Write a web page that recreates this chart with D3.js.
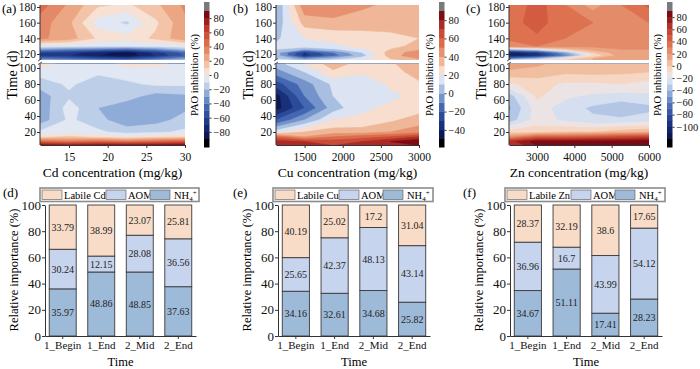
<!DOCTYPE html>
<html>
<head>
<meta charset="utf-8">
<script src="https://cdn.jsdelivr.net/npm/d3@7"></script>
<style>
body { margin: 0; background: #fff; }
svg { display: block; font-family: "Liberation Serif", "Times New Roman", serif; }
</style>
</head>
<body>
<svg id="fig" width="700" height="369"></svg>
<script>
// ---- contour data (rows = time, cols = concentration) ----
var timeLow  = [3, 8, 14, 20, 35, 50, 65, 80, 95, 105];
var timeHigh = [110, 114, 118, 122, 126, 130, 140, 160, 183];

var cdConc = [11.25, 15, 18.75, 22.5, 26.25, 30];
var cuConc = [1125, 1500, 1875, 2250, 2625, 3000];
var znConc = [2250, 3000, 3750, 4500, 5250, 6000];

var cdLow = [
  [85, 80, 85, 85, 85, 88],
  [45, 40, 45, 40, 45, 50],
  [5, 12, 5, 0, 5, 8],
  [-8, -5, -8, -14, -12, -8],
  [-26, -8, -16, -28, -24, -16],
  [-28, -5, -20, -26, -22, -22],
  [-25, -12, -20, -16, -24, -22],
  [-16, -8, -16, -12, -8, -8],
  [-5, -5, -8, -5, -5, -5],
  [3, -3, -5, 3, 2, -3]
];
var cdHigh = [
  [-8, -10, -10, -12, -10, -5],
  [-40, -45, -55, -60, -45, -30],
  [-65, -70, -80, -88, -70, -50],
  [-60, -65, -75, -85, -65, -45],
  [-30, -35, -40, -45, -35, -20],
  [-5, -8, -10, -10, -8, -5],
  [32, 25, 8, 4, 12, 28],
  [35, 22, -5, -12, 8, 28],
  [45, 28, 12, 8, 18, 32]
];

var cuLow = [
  [70, 75, 70, 70, 75, 80],
  [75, 70, 65, 70, 80, 88],
  [55, 40, 50, 55, 60, 70],
  [15, 30, 35, 35, 40, 45],
  [-20, 0, 20, 22, 28, 35],
  [-45, -20, 5, 18, 22, 25],
  [-45, -10, 10, 15, 18, 22],
  [-25, -5, 12, 12, 22, 28],
  [-5, 10, 28, 22, 25, 35],
  [5, 20, 35, 25, 28, 38]
];
var cuHigh = [
  [15, 15, 20, 22, 28, 30],
  [10, -5, 5, 15, 30, 40],
  [5, -35, -15, 5, 35, 48],
  [5, -30, -10, 10, 35, 45],
  [10, 0, 8, 18, 30, 38],
  [12, 15, 18, 22, 28, 32],
  [8, 20, 22, 25, 28, 30],
  [2, 34, 37, 35, 33, 37],
  [-2, 48, 48, 42, 38, 40]
];

var znLow = [
  [55, 80, 85, 85, 85, 88],
  [65, 85, 85, 85, 85, 88],
  [20, 40, 40, 45, 50, 55],
  [-5, -5, 0, 0, 5, 8],
  [-36, -15, -22, -28, -28, -25],
  [-42, -15, -25, -32, -38, -33],
  [-35, -8, -18, -22, -24, -22],
  [-12, -5, -12, -12, -10, -14],
  [8, 5, 2, 3, 2, 0],
  [15, 12, 5, 5, 5, 5]
];
var znHigh = [
  [10, 5, 5, 10, 15, 15],
  [-60, -40, -10, 10, 15, 15],
  [-110, -100, -60, -10, 15, 15],
  [-105, -90, -45, 0, 18, 18],
  [-40, -25, 0, 15, 20, 20],
  [25, 30, 25, 22, 22, 20],
  [32, 38, 30, 25, 22, 22],
  [35, 45, 32, 30, 28, 30],
  [30, 45, 30, 15, 30, 42]
];

var cdLevels = [-90, -80, -70, -60, -50, -40, -30, -20, -10, 0, 10, 20, 30, 40, 50, 60, 70, 80, 90];
var cuLevels = [-50, -40, -30, -20, -10, 0, 10, 20, 30, 40, 50, 60, 70, 80, 90];
var znLevels = [-120, -110, -100, -90, -80, -70, -60, -50, -40, -30, -20, -10, 0, 10, 20, 30, 40, 50, 60, 70, 80, 90];
var cdBarTicks = [-80, -60, -40, -20, 0, 20, 40, 60, 80];
var cuBarTicks = [-40, -20, 0, 20, 40, 60, 80];
var znBarTicks = [-100, -80, -60, -40, -20, 0, 20, 40, 60, 80];
var highTicks = [120, 140, 160, 180];
var lowTicks = [20, 40, 60, 80, 100];
var cdTicks = [15, 20, 25, 30];
var cuTicks = [1500, 2000, 2500, 3000];
var znTicks = [3000, 4000, 5000, 6000];

// ---- bar data ----
var timeCats = ["1_Begin", "1_End", "2_Mid", "2_End"];
var cdNH4 = [35.97, 48.86, 48.85, 37.63];
var cdAOM = [30.24, 12.15, 28.08, 36.56];
var cdLabile = [33.79, 38.99, 23.07, 25.81];
var cuNH4 = [34.16, 32.61, 34.68, 25.82];
var cuAOM = [25.65, 42.37, 48.13, 43.14];
var cuLabile = [40.19, 25.02, 17.2, 31.04];
var znNH4 = [34.67, 51.11, 17.41, 28.23];
var znAOM = [36.96, 16.7, 43.99, 54.12];
var znLabile = [28.37, 32.19, 38.6, 17.65];

var svg = d3.select("#fig");
var serif = "Liberation Serif, Times New Roman, serif";

// diverging palette picked off the colour bars
var cmap = d3.scaleLinear()
  .domain([0.03, 0.14, 0.25, 0.36, 0.42, 0.47, 0.53, 0.58, 0.64, 0.75, 0.86, 0.97])
  .range(["#0c1650", "#1e3a8a", "#4467b2", "#8eaad8", "#c0d0ea", "#e0e7f4",
          "#f7e1d3", "#f3c6a9", "#eba583", "#dc6c4a", "#c03a2c", "#7a0a14"])
  .clamp(true);

function styleAxis(g, size) {
  g.attr("font-family", serif);
  g.selectAll("text").attr("font-size", size).attr("fill", "#111");
  g.selectAll("line").attr("stroke", "#333");
  g.select(".domain").attr("stroke", "#333");
}

function contourPanel(p) {
  var g = svg.append("g");
  var x = d3.scaleLinear().domain([p.conc[0], p.conc[p.conc.length - 1]]).range([p.x0, p.x1]);
  var yHigh = d3.scaleLinear().domain([120, 180]).range([54, 7]);
  var yLow = d3.scaleLinear().domain([20, 100]).range([132, 68]);
  var vmin = p.levels[0], vmax = p.levels[p.levels.length - 1];
  var bandColor = function(i) {
    if (i >= p.levels.length - 1) return "#7a7a7a";
    var mid = (p.levels[i] + p.levels[i + 1]) / 2;
    return cmap((mid - vmin) / (vmax - vmin));
  };

  function half(times, grid, y, top, bottom, id) {
    svg.append("clipPath").attr("id", id).append("rect")
      .attr("x", p.x0).attr("y", top).attr("width", p.x1 - p.x0).attr("height", bottom - top);
    var nx = p.conc.length, ny = times.length;
    var xi = d3.scaleLinear().domain(d3.range(nx)).range(p.conc).clamp(true);
    var ti = d3.scaleLinear().domain(d3.range(ny)).range(times).clamp(true);
    var proj = d3.geoTransform({ point: function(px, py) {
      this.stream.point(x(xi(px - 0.5)), y(ti(py - 0.5)));
    }});
    var path = d3.geoPath(proj);
    var cs = d3.contours().size([nx, ny]).thresholds(p.levels)(grid.flat());
    var hg = g.append("g").attr("clip-path", "url(#" + id + ")");
    hg.append("rect").attr("x", p.x0).attr("y", top).attr("width", p.x1 - p.x0)
      .attr("height", bottom - top).attr("fill", "#000");
    hg.selectAll("path").data(cs).join("path")
      .attr("d", path)
      .attr("fill", function(d, i) { return bandColor(i); })
      .attr("stroke", function(d, i) { return bandColor(i); })
      .attr("stroke-width", 0.6);
  }
  half(timeHigh, p.high, yHigh, 5, 60, p.id + "h");
  half(timeLow, p.low, yLow, 63.5, 145, p.id + "l");

  // axes
  var ah = g.append("g").attr("transform", "translate(" + p.x0 + ",0)")
    .call(d3.axisLeft(yHigh).tickValues(highTicks).tickSize(3).tickPadding(1).tickSizeOuter(0));
  ah.select(".domain").attr("d", "M0,5V60");
  styleAxis(ah, 11.5);
  var al = g.append("g").attr("transform", "translate(" + p.x0 + ",0)")
    .call(d3.axisLeft(yLow).tickValues(lowTicks).tickSize(3).tickPadding(1).tickSizeOuter(0));
  al.select(".domain").attr("d", "M0,63.5V145");
  styleAxis(al, 11.5);
  var ax = g.append("g").attr("transform", "translate(0,145)")
    .call(d3.axisBottom(x).tickValues(p.ticks).tickSize(3).tickPadding(5).tickSizeOuter(0)
      .tickFormat(d3.format("d")));
  styleAxis(ax, 11.5);

  // break marks
  g.append("path").attr("d", "M" + (p.x0 - 2) + ",61l4,-2.5M" + (p.x0 - 2) + ",64.5l4,-2.5")
    .attr("stroke", "#333").attr("stroke-width", 0.8).attr("fill", "none");

  g.append("text").attr("x", p.x0 - 28).attr("y", 75).attr("font-size", 14)
    .attr("text-anchor", "middle").attr("transform", "rotate(-90," + (p.x0 - 28) + ",75)")
    .attr("dy", "0.35em").text("Time (d)");
  g.append("text").attr("x", (p.x0 + p.x1) / 2).attr("y", 177).attr("font-size", 13.5)
    .attr("text-anchor", "middle").text(p.xlabel);
  g.append("text").attr("x", p.labelX).attr("y", 13).attr("font-size", 13).text(p.tag);

  // colorbar
  var cb = d3.scaleLinear().domain([vmin, vmax]).range([139, 11]);
  var cx = p.cbX, cw = 5.5;
  var cg = g.append("g");
  for (var i = 0; i < p.levels.length - 1; i++) {
    cg.append("rect").attr("x", cx).attr("y", cb(p.levels[i + 1])).attr("width", cw)
      .attr("height", cb(p.levels[i]) - cb(p.levels[i + 1]) + 0.3).attr("fill", bandColor(i));
  }
  cg.append("rect").attr("x", cx).attr("y", 2).attr("width", cw).attr("height", 9).attr("fill", "#7a7a7a");
  cg.append("rect").attr("x", cx).attr("y", 139).attr("width", cw).attr("height", 8.5).attr("fill", "#000");
  var cax = cg.append("g").attr("transform", "translate(" + (cx + cw) + ",0)")
    .call(d3.axisRight(cb).tickValues(p.cbTicks).tickSize(2).tickPadding(2)
      .tickFormat(function(d) { return d < 0 ? "\u2212" + Math.abs(d) : d; }));
  cax.select(".domain").remove();
  styleAxis(cax, 10.5);
  g.append("text").attr("x", cx - 10).attr("y", 75).attr("font-size", 10.5)
    .attr("text-anchor", "middle").attr("transform", "rotate(-90," + (cx - 10) + ",75)")
    .attr("dy", "0.35em").text("PAO inhibition (%)");
}

contourPanel({ id: "a", tag: "(a)", labelX: 2, conc: cdConc, low: cdLow, high: cdHigh, levels: cdLevels,
  cbTicks: cdBarTicks, ticks: cdTicks, x0: 40, x1: 185, cbX: 204, xlabel: "Cd concentration (mg/kg)" });
contourPanel({ id: "b", tag: "(b)", labelX: 233, conc: cuConc, low: cuLow, high: cuHigh, levels: cuLevels,
  cbTicks: cuBarTicks, ticks: cuTicks, x0: 276, x1: 419, cbX: 439, xlabel: "Cu concentration (mg/kg)" });
contourPanel({ id: "c", tag: "(c)", labelX: 466, conc: znConc, low: znLow, high: znHigh, levels: znLevels,
  cbTicks: znBarTicks, ticks: znTicks, x0: 509, x1: 649, cbX: 667, xlabel: "Zn concentration (mg/kg)" });

// ---- stacked bars ----
var colNH4 = "#9dbad9", colAOM = "#c7d4ed", colLab = "#f8dcc8";

function barPanel(p) {
  var g = svg.append("g");
  var x = d3.scaleBand().domain(timeCats).range([p.x0, p.x1]).paddingInner(0.3).paddingOuter(0.11);
  var y = d3.scaleLinear().domain([0, 100]).range([336, 205]);
  var rows = timeCats.map(function(c, i) {
    return { cat: c, segs: [
      { v: p.nh4[i], b: 0, col: colNH4 },
      { v: p.aom[i], b: p.nh4[i], col: colAOM },
      { v: p.lab[i], b: p.nh4[i] + p.aom[i], col: colLab }
    ]};
  });
  rows.forEach(function(r) {
    r.segs.forEach(function(s) {
      var top = Math.min(s.b + s.v, 100);
      g.append("rect").attr("x", x(r.cat)).attr("width", x.bandwidth())
        .attr("y", y(top)).attr("height", y(s.b) - y(top))
        .attr("fill", s.col).attr("stroke", "#3a3a3a").attr("stroke-width", 0.9);
      g.append("text").attr("x", x(r.cat) + x.bandwidth() / 2).attr("y", y(s.b + s.v / 2))
        .attr("dy", "0.35em").attr("text-anchor", "middle").attr("font-size", 10)
        .attr("fill", "#222").text(s.v);
    });
  });
  var ay = g.append("g").attr("transform", "translate(" + p.x0 + ",0)")
    .call(d3.axisLeft(y).tickValues([0, 20, 40, 60, 80, 100]).tickSize(3).tickPadding(1).tickSizeOuter(0));
  styleAxis(ay, 13);
  var ax = g.append("g").attr("transform", "translate(0,336)")
    .call(d3.axisBottom(x).tickSize(3).tickPadding(2).tickSizeOuter(0));
  styleAxis(ax, 11);

  g.append("text").attr("x", p.x0 - 31).attr("y", 270).attr("font-size", 12.5)
    .attr("text-anchor", "middle").attr("transform", "rotate(-90," + (p.x0 - 31) + ",270)")
    .attr("dy", "0.35em").text("Relative importance (%)");
  g.append("text").attr("x", (p.x0 + p.x1) / 2).attr("y", 366).attr("font-size", 12.5)
    .attr("text-anchor", "middle").text("Time");
  g.append("text").attr("x", p.labelX).attr("y", 197).attr("font-size", 13).text(p.tag);

  // legend
  var lx = p.x0 - 5, lw = p.x1 - p.x0 + 8;
  g.append("rect").attr("x", lx).attr("y", 188).attr("width", lw).attr("height", 13.5)
    .attr("fill", "#fff").attr("stroke", "#8c8c8c").attr("stroke-width", 1.6);
  var items = [
    { col: colLab, sx: 2, tx: 24, label: "Labile " + p.metal },
    { col: colAOM, sx: 66, tx: 88, label: "AOM" },
    { col: colNH4, sx: 110, tx: 134, label: "NH" }
  ];
  items.forEach(function(it) {
    g.append("rect").attr("x", lx + it.sx).attr("y", 190).attr("width", 20).attr("height", 9.5)
      .attr("fill", it.col).attr("stroke", "#555").attr("stroke-width", 0.6);
    var t = g.append("text").attr("x", lx + it.tx).attr("y", 198.5).attr("font-size", 10.5).text(it.label);
    if (it.label === "NH") {
      t.append("tspan").attr("font-size", 7).attr("dy", 2).text("4");
      t.append("tspan").attr("font-size", 7).attr("dy", -6).text("+");
    }
  });
}

barPanel({ tag: "(d)", labelX: 3, metal: "Cd", nh4: cdNH4, aom: cdAOM, lab: cdLabile, x0: 45, x1: 196 });
barPanel({ tag: "(e)", labelX: 233, metal: "Cu", nh4: cuNH4, aom: cuAOM, lab: cuLabile, x0: 278, x1: 430 });
barPanel({ tag: "(f)", labelX: 463, metal: "Zn", nh4: znNH4, aom: znAOM, lab: znLabile, x0: 510, x1: 662 });
</script>
</body>
</html>
